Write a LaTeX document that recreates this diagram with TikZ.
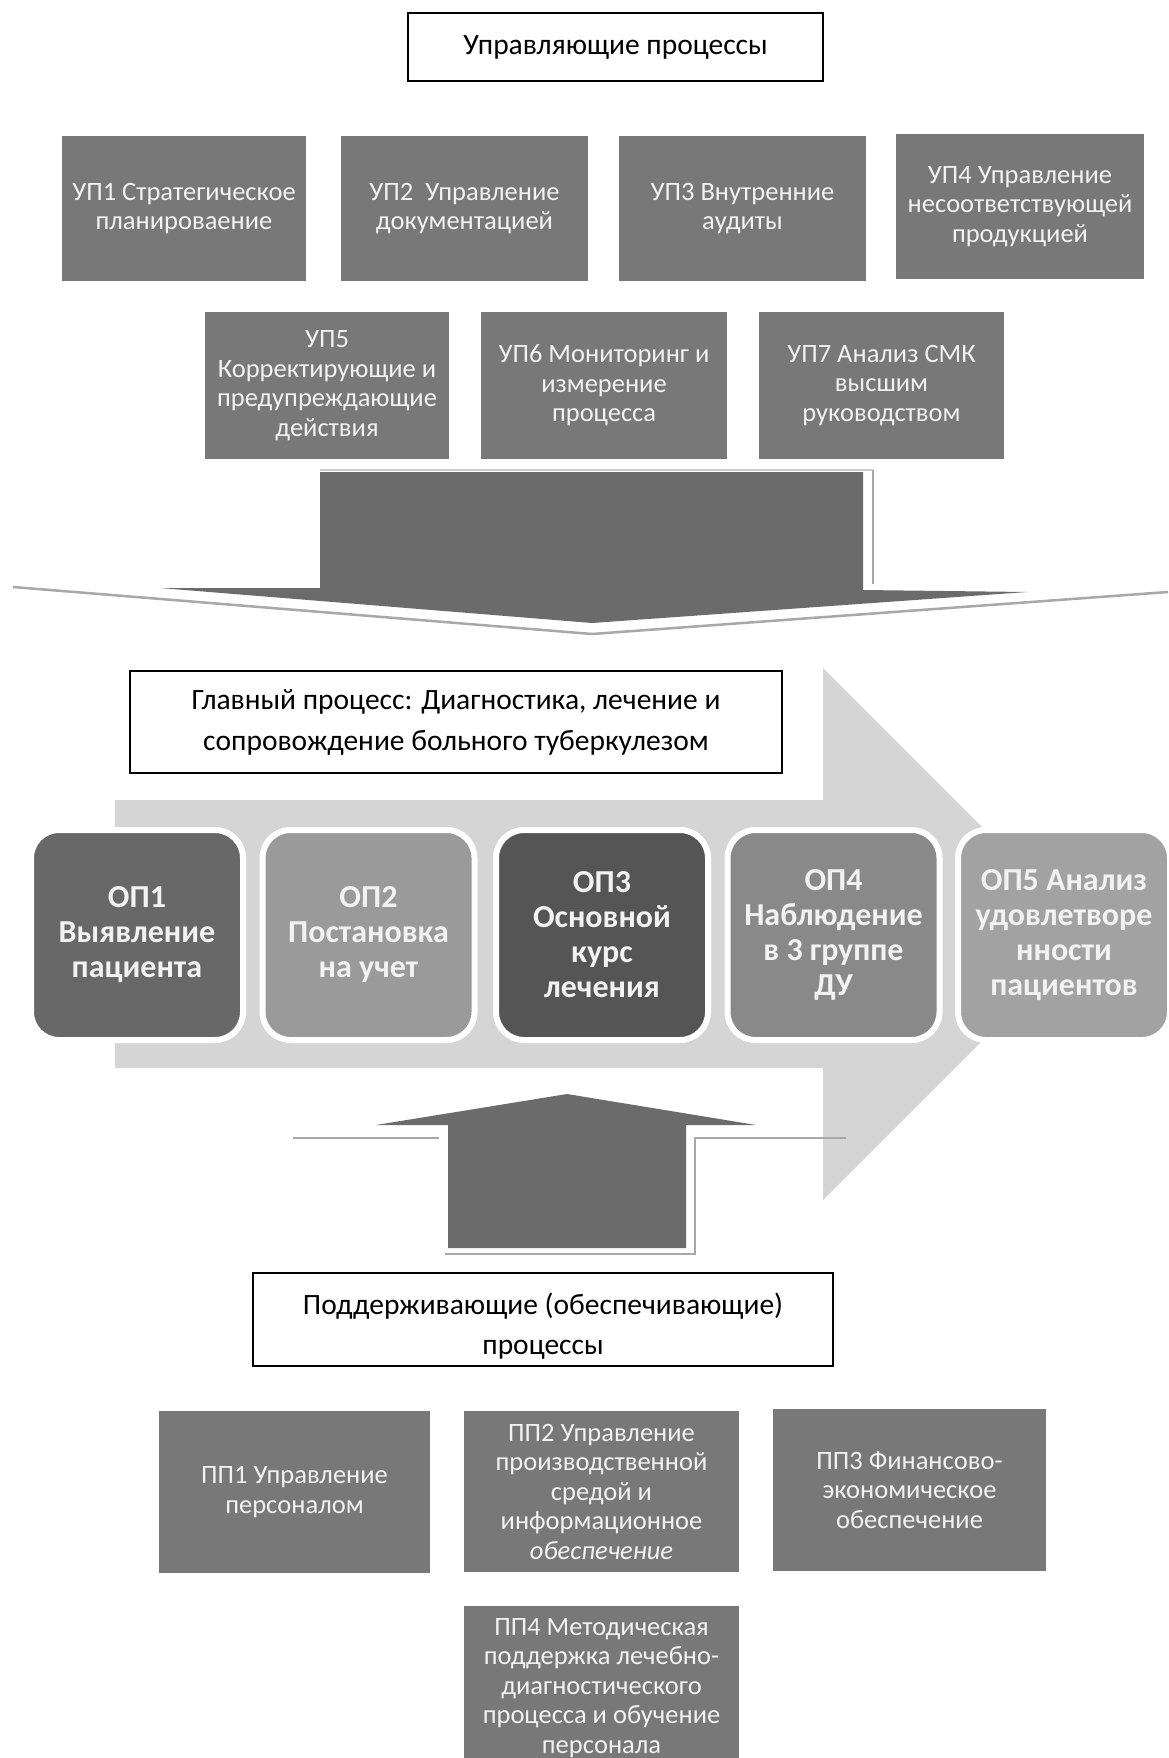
\documentclass[tikz,border=0pt]{standalone}
\usepackage{fontspec}
\setmainfont{Carlito}
\definecolor{boxgray}{HTML}{787878}
\definecolor{arrowdark}{HTML}{6B6B6B}
\definecolor{arrowlight}{HTML}{D5D5D5}
\definecolor{edgelight}{HTML}{A8A8A8}
\definecolor{txtwhite}{HTML}{F2F2F2}
\definecolor{opA}{HTML}{686868}
\definecolor{opB}{HTML}{9A9A9A}
\definecolor{opC}{HTML}{555555}
\definecolor{opD}{HTML}{898989}
\definecolor{opE}{HTML}{A2A2A2}
\tikzset{
  framebox/.style={draw=black, line width=1.8pt, fill=white, inner sep=0pt, align=center,
    font=\fontsize{29.5}{41}\selectfont},
  frametext/.style={inner sep=0pt, align=center, font=\fontsize{29.5}{40}\selectfont},
  graybox/.style={fill=boxgray, inner sep=0pt, align=center, text=txtwhite,
    font=\fontsize{26.5}{29.5}\selectfont},
  opbox/.style={rounded corners=28pt, draw=white, line width=6pt, inner sep=0pt, align=center,
    text=txtwhite, minimum width=212pt, minimum height=210pt,
    font=\bfseries\fontsize{32}{35}\selectfont},
  lightedge/.style={draw=edgelight, line width=2.5pt}
}
\begin{document}
\begin{tikzpicture}[x=1pt,y=-1pt]
\useasboundingbox (0,0) rectangle (1168,1758);
\fill[white] (0,0) rectangle (1168,1758);

% title
\node[framebox, minimum width=415pt, minimum height=68pt] (title) at (615.5,47) {Управляющие процессы};

% control processes
\node[graybox, minimum width=244pt, minimum height=145pt] (up1) at (184,208.5) {УП1 Стратегическое\\планироваение};
\node[graybox, minimum width=247pt, minimum height=145pt] (up2) at (464.5,208.5) {УП2\ \ Управление\\документацией};
\node[graybox, minimum width=247pt, minimum height=145pt] (up3) at (742.5,208.5) {УП3 Внутренние\\аудиты};
\node[graybox, minimum width=248pt, minimum height=145pt] (up4) at (1020,206.5) {УП4 Управление\\несоответствующей\\продукцией};
\node[graybox, minimum width=244pt, minimum height=147pt] (up5) at (327,385.5) {УП5\\Корректирующие и\\предупреждающие\\действия};
\node[graybox, minimum width=246pt, minimum height=147pt] (up6) at (604,385.5) {УП6 Мониторинг и\\измерение\\процесса};
\node[graybox, minimum width=245pt, minimum height=147pt] (up7) at (881.5,385.5) {УП7 Анализ СМК\\высшим\\руководством};

% down arrow
\draw[lightedge, draw=edgelight!60] (320,470) -- (873,470);
\draw[lightedge] (873,470) -- (873,584);
\draw[lightedge] (13,587) -- (592,634) -- (1168,592);
\fill[arrowdark] (320,472) -- (863,472) -- (863,590) -- (1027,592) -- (592,623) -- (160,588) -- (320,588) -- cycle;

% big light arrow
\fill[arrowlight] (115,800) -- (823,800) -- (823,668) -- (1089,934) -- (823,1200) -- (823,1068) -- (115,1068) -- cycle;

% main process
\node[framebox, minimum width=652pt, minimum height=102pt] (main) at (456,722) {Главный процесс: Диагностика, лечение и\\сопровождение больного туберкулезом};

% main steps
\node[opbox, fill=opA] (op1) at (137,935) {ОП1\\Выявление\\пациента};
\node[opbox, fill=opB] (op2) at (368.5,935) {ОП2\\Постановка\\на учет};
\node[opbox, fill=opC] (op3) at (602,935) {ОП3\\Основной\\курс\\лечения};
\node[opbox, fill=opD] (op4) at (833.5,935) {ОП4\\Наблюдение\\в 3 группе\\ДУ};
\node[opbox, fill=opE] (op5) at (1064,935) {ОП5 Анализ\\удовлетворе\\нности\\пациентов};

% up arrow
\draw[lightedge] (293,1138) -- (439,1138);
\draw[lightedge] (846,1138) -- (695,1138) -- (695,1254) -- (445,1254);
\fill[arrowdark] (448,1248) -- (448,1125) -- (376,1125) -- (567,1094) -- (756,1125) -- (686,1125) -- (686,1248) -- cycle;

% supporting processes
\node[draw=black, line width=1.8pt, fill=white, minimum width=580pt, minimum height=93pt] (supp) at (543,1319.5) {};
\node[frametext] (supptext) at ([yshift=-7pt]supp.center) {Поддерживающие (обеспечивающие)\\процессы};

\node[graybox, minimum width=271pt, minimum height=162pt] (pp1) at (294.5,1492) {ПП1 Управление\\персоналом};
\node[graybox, minimum width=275pt, minimum height=161pt] (pp2) at (601.5,1491.5) {ПП2 Управление\\производственной\\средой и\\информационное\\\textit{обеспечение}};
\node[graybox, minimum width=273pt, minimum height=162pt] (pp3) at (909.5,1490) {ПП3 Финансово-\\экономическое\\обеспечение};
\node[graybox, minimum width=275pt, minimum height=152pt] (pp4) at (601.5,1682) {};
\node[inner sep=0pt, align=center, text=txtwhite, font=\fontsize{26.5}{29.5}\selectfont] (pp4text) at ([yshift=-6pt]pp4.center) {ПП4 Методическая\\поддержка лечебно-\\диагностического\\процесса и обучение\\персонала};
\end{tikzpicture}
\end{document}
